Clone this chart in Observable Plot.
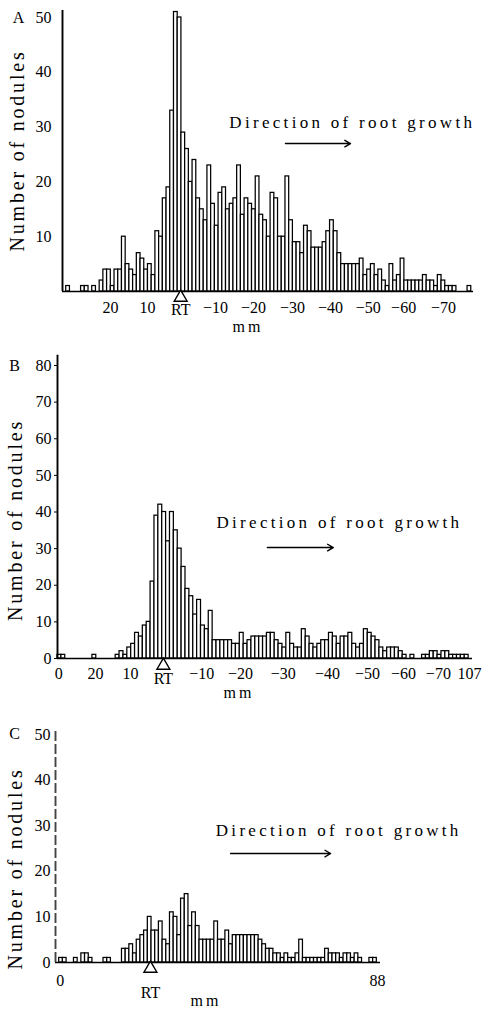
<!DOCTYPE html>
<html><head><meta charset="utf-8">
<script src="https://cdn.jsdelivr.net/npm/d3@7"></script>
<script src="https://cdn.jsdelivr.net/npm/@observablehq/plot@0.6"></script>
<style>
html,body{margin:0;padding:0;background:#fff;}
#wrap{position:relative;width:488px;height:1010px;overflow:hidden;background:#fff;}
#wrap svg{position:absolute;left:0;}
</style></head><body><div id="wrap"></div>
<script>
// ---- data: number of nodules per 1-mm segment (bin index from left end of axis) ----
const countsA = [1,0,0,0,1,1,0,1,0,2, 4,4,1,4,4,10,5,4,3,7, 6,4,5,3,11,10,17,19,33,51,
  50,29,26,20,24,17,15,13,23,16, 12,18,19,15,16,17,23,14,17,16, 15,21,14,13,10,18,17,10,10,21,
  13,9,9,7,12,11,8,8,8,9, 11,13,11,7,5,5,5,5,5,6, 3,4,5,3,4,2,1,5,2,3,
  6,2,2,2,2,2,3,2,2,1, 3,2,1,1,1,0,0,0,1];
const countsB = [1,1,0,0,0,0,0,0,0,1, 0,0,0,0,0,1,2,1,3,4, 7,6,9,10,21,39,42,40,32,40,
  35,30,25,19,17,12,16,9,8,13, 5,5,5,5,5,4,4,7,4,5, 6,6,6,6,7,7,5,4,3,7,
  4,3,3,8,6,4,3,4,5,5, 7,6,4,6,6,7,4,3,4,8, 7,6,5,3,2,3,3,3,2,1,
  0,1,0,0,1,1,2,2,1,2, 2,1,1,1,1,1,0];
const countsC = [0,1,1,0,0,1,0,2,2,1, 0,0,0,1,1,0,0,0,3,3, 4,2,5,6,7,10,7,7,9,5,
  4,11,10,6,14,15,8,11,8,5, 5,5,5,9,5,5,7,4,6,6, 6,6,6,6,6,5,4,3,3,2,
  2,1,2,1,1,2,5,1,1,1, 1,1,1,3,2,2,2,1,2,2, 1,2,1,0,0,1,1,0];

// ---- axis tick positions (in bin units) and their printed labels ----
const xTicksA = [11.9, 21.9, 40.2, 50.4, 60.9, 71.1, 81.3, 90.8, 101.5];
const xLabelsA = ["20", "10", "\u221210", "\u221220", "\u221230", "\u221240", "\u221250", "\u221260", "\u221270"];
const rtA = 30.8;
const yTicksA = [10, 20, 30, 40, 50];

const xTicksB = [0.3, 9.8, 18.8, 37.2, 47.2, 58.2, 69.6, 79.9, 89.2, 98.2, 106.2];
const xLabelsB = ["0", "20", "10", "\u221210", "\u221220", "\u221230", "\u221240", "\u221250", "\u221260", "\u221270", "107"];
const rtB = 27.3;
const yTicksB = [0, 10, 20, 30, 40, 50, 60, 70, 80];

const xTicksC = [1.3, 87.2];
const xLabelsC = ["0", "88"];
const rtC = 25.7;
const yTicksC = [0, 10, 20, 30, 40, 50];

const yLabel = "Number of nodules";
const dirLabel = "Direction of root growth";
const xUnit = "mm";

const wrap = document.getElementById("wrap");
const FONT = "'Liberation Serif', 'DejaVu Serif', serif";

function spaced(svg, text, px) {
  d3.select(svg).selectAll("text")
    .filter(function () { return this.textContent === text; })
    .attr("letter-spacing", px);
}

function panel(o) {
  const data = o.counts.map((v, i) => ({i, v}));
  const tickMap = new Map(o.xTicks.map((t, k) => [t, o.xLabels[k]]));
  const svg = Plot.plot({
    width: 488, height: o.height,
    marginLeft: o.ml, marginRight: o.mr, marginTop: o.mt, marginBottom: o.mb,
    x: {domain: o.xDomain, label: null},
    y: {domain: [0, o.yTop], label: null},
    style: {fontFamily: FONT, fontSize: "16px", color: "black", background: "transparent", overflow: "visible"},
    marks: [
      Plot.rect(data, {x1: "i", x2: d => d.i + 1, y1: 0, y2: "v", fill: "white", stroke: "black", strokeWidth: 1.25}),
      Plot.ruleY([0], {stroke: "black", strokeWidth: 1.7}),
      Plot.ruleX([o.xDomain[0]], {y1: 0, y2: o.axisTop, stroke: o.axisColor, strokeWidth: 1.9, strokeDasharray: o.axisDash}),
      Plot.axisY(o.yTicks, {tickSize: o.yTickSize, tickPadding: o.yPad, label: null}),
      Plot.axisX(o.xTicks, {tickSize: 0, tickPadding: o.xPad, tickFormat: d => tickMap.get(d), label: null}),
      Plot.dot([o.rt], {x: d => d, y: 0, symbol: "triangle", r: 4.8, fill: "white", stroke: "black", strokeWidth: 1.4, dy: o.triDy}),
      Plot.text([o.rt], {x: d => d, y: 0, text: () => "RT", dy: o.rtDy, fontSize: 16}),
      Plot.text([yLabel], {frameAnchor: "left", textAnchor: "middle", rotate: -90, dx: o.ylDx, dy: o.ylDy, fontSize: 20}),
      Plot.text([o.letter], {frameAnchor: "top-left", textAnchor: "middle", dx: o.letDx, dy: o.letDy, fontSize: 16}),
      Plot.text([o.dir], {x: "x", y: "y", text: () => dirLabel, textAnchor: "start", fontSize: 17}),
      Plot.arrow([o.dir], {x1: "ax1", x2: "ax2", y1: "ay", y2: "ay", headLength: 7, strokeWidth: 1.4}),
      Plot.text([xUnit], {frameAnchor: "bottom", dx: o.mmDx, dy: o.mmDy, fontSize: 16})
    ]
  });
  spaced(svg, yLabel, 2.8);
  spaced(svg, dirLabel, 3.3);
  spaced(svg, xUnit, 3);
  svg.style.top = o.top + "px";
  wrap.appendChild(svg);
}

panel({
  counts: countsA, xTicks: xTicksA, xLabels: xLabelsA, rt: rtA, yTicks: yTicksA,
  top: 0, height: 345, ml: 62, mr: 15, mt: 17, mb: 54,
  xDomain: [-1, 109.6], yTop: 50, axisTop: 51.3, axisColor: "black", axisDash: null,
  yTickSize: 0, yPad: 11, xPad: 10, triDy: 6, rtDy: 18,
  ylDx: -45, ylDy: -4, letDx: -44, letDy: -6, mmDx: -20, mmDy: 40,
  letter: "A",
  dir: {x: 43.9, y: 30.8, ax1: 59.0, ax2: 76.5, ay: 27.0}
});

panel({
  counts: countsB, xTicks: xTicksB, xLabels: xLabelsB, rt: rtB, yTicks: yTicksB,
  top: 340, height: 370, ml: 57, mr: 16, mt: 25, mb: 52,
  xDomain: [0, 107], yTop: 80, axisTop: 82.8, axisColor: "black", axisDash: null,
  yTickSize: 3, yPad: 3, xPad: 9, triDy: 7, rtDy: 20,
  ylDx: -42, ylDy: 8, letDx: -43, letDy: -6, mmDx: -26, mmDy: 39,
  letter: "B",
  dir: {x: 41.0, y: 37.2, ax1: 54.1, ax2: 71.1, ay: 30.3}
});

panel({
  counts: countsC, xTicks: xTicksC, xLabels: xLabelsC, rt: rtC, yTicks: yTicksC,
  top: 705, height: 305, ml: 55, mr: 108, mt: 29, mb: 48,
  xDomain: [0, 88], yTop: 50, axisTop: 51.3, axisColor: "#444", axisDash: "10,3",
  yTickSize: 0, yPad: 5, xPad: 12, triDy: 6, rtDy: 30,
  ylDx: -40, ylDy: 20, letDx: -41, letDy: -7, mmDx: -12, mmDy: 43,
  letter: "C",
  dir: {x: 43.4, y: 28.9, ax1: 47.4, ax2: 74.5, ay: 23.9}
});
</script></body></html>
